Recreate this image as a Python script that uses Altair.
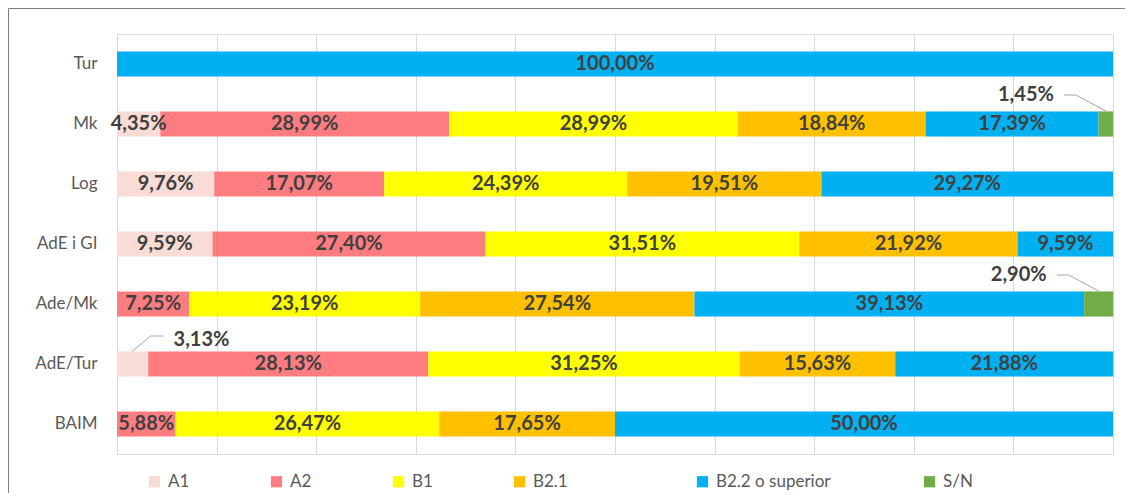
import altair as alt
import pandas as pd

categories = ["Tur", "Mk", "Log", "AdE i GI", "Ade/Mk", "AdE/Tur", "BAIM"]
levels = ["A1", "A2", "B1", "B2.1", "B2.2 o superior", "S/N"]
colors = ["#F8DCD5", "#FF7C80", "#FFFF00", "#FFC000", "#00B0F0", "#70AD47"]

a1 = [0, 4.35, 9.76, 9.59, 0, 3.13, 0]
a2 = [0, 28.99, 17.07, 27.40, 7.25, 28.13, 5.88]
b1 = [0, 28.99, 24.39, 31.51, 23.19, 31.25, 26.47]
b21 = [0, 18.84, 19.51, 21.92, 27.54, 15.63, 17.65]
b22 = [100.00, 17.39, 29.27, 9.59, 39.13, 21.88, 50.00]
sn = [0, 1.45, 0, 0, 2.90, 0, 0]

series = [a1, a2, b1, b21, b22, sn]
rows = []
for ci, cat in enumerate(categories):
    cum = 0.0
    for li, lev in enumerate(levels):
        v = series[li][ci]
        if v > 0:
            rows.append({
                "cat": cat, "level": lev, "value": v,
                "start": cum, "end": cum + v, "mid": cum + v / 2,
                "label": f"{v:.2f}".replace(".", ",") + "%",
                "callout": "none" if v >= 4 else ("left" if cum > 50 else "right"),
            })
            cum += v
df = pd.DataFrame(rows)

FONT = "Lato"
TXT = "#404040"
LEAD = "#A6A6A6"

y = alt.Y("cat:N", sort=categories, title=None,
          scale=alt.Scale(paddingInner=0.58, paddingOuter=0.29),
          axis=alt.Axis(domain=False, ticks=False, labelFontSize=17, labelColor="#595959",
                        labelFont=FONT, labelPadding=20, grid=False))
y2 = alt.Y2("cat:N")

base = alt.Chart(df)

BL = "\u2800"
legend_expr = (
    f"datum.label == 'B2.1' ? 'B2.1' + '{BL * 4}' : "
    f"datum.label == 'B2.2 o superior' ? 'B2.2 o superior' + '{BL * 1}' : datum.label"
)

bars = base.mark_bar().encode(
    x=alt.X("start:Q", scale=alt.Scale(domain=[0, 100], nice=False), title=None,
            axis=alt.Axis(values=list(range(0, 101, 10)), labels=False, ticks=False,
                          domain=False, grid=True, gridColor="#D9D9D9", gridWidth=1)),
    x2="end:Q",
    y=y,
    color=alt.Color("level:N", scale=alt.Scale(domain=levels, range=colors),
                    legend=alt.Legend(title=None, orient="none", direction="horizontal",
                                      legendX=29, legendY=439, padding=0,
                                      symbolType="square", symbolSize=125,
                                      symbolStrokeWidth=0, labelFontSize=17,
                                      labelFont=FONT, labelColor="#595959",
                                      labelOffset=5, columnPadding=78,
                                      labelExpr=legend_expr)),
)

inside = base.transform_filter("datum.callout == 'none'").mark_text(
    font=FONT, fontSize=20, fontWeight="bold", color=TXT, baseline="middle", align="center"
).encode(x="mid:Q", y=y, text="label:N")

left = base.transform_filter("datum.callout == 'left'")
right = base.transform_filter("datum.callout == 'right'")

left_diag = left.mark_rule(color=LEAD, strokeWidth=1, yOffset=-13, y2Offset=-29, x2Offset=-30).encode(
    x="mid:Q", x2="mid:Q", y=y, y2=y2)
left_hor = left.mark_rule(color=LEAD, strokeWidth=1, yOffset=-29, y2Offset=-29, xOffset=-30, x2Offset=-42).encode(
    x="mid:Q", x2="mid:Q", y=y, y2=y2)
left_txt = left.mark_text(font=FONT, fontSize=20, fontWeight="bold", color=TXT, baseline="middle",
                          align="right", xOffset=-52, yOffset=-29).encode(x="mid:Q", y=y, text="label:N")

right_diag = right.mark_rule(color=LEAD, strokeWidth=1, yOffset=-13, y2Offset=-28, x2Offset=18).encode(
    x="mid:Q", x2="mid:Q", y=y, y2=y2)
right_hor = right.mark_rule(color=LEAD, strokeWidth=1, yOffset=-28, y2Offset=-28, xOffset=18, x2Offset=31).encode(
    x="mid:Q", x2="mid:Q", y=y, y2=y2)
right_txt = right.mark_text(font=FONT, fontSize=20, fontWeight="bold", color=TXT, baseline="middle",
                            align="left", xOffset=41, yOffset=-24).encode(x="mid:Q", y=y, text="label:N")

frame_df = pd.DataFrame({"k": [0]})
frame_v = alt.Chart(frame_df).mark_rule(color="#7F7F7F", strokeWidth=1).encode(
    x=alt.value(-108.5), y=alt.value(-25.5), y2=alt.value(470))
frame_h = alt.Chart(frame_df).mark_rule(color="#7F7F7F", strokeWidth=1).encode(
    x=alt.value(-108.5), x2=alt.value(1020), y=alt.value(-25.5))

chart = alt.layer(
    bars, inside, left_diag, left_hor, left_txt, right_diag, right_hor, right_txt, frame_v, frame_h
).properties(
    width=996, height=420,
    padding={"left": 109, "top": 26, "right": 12, "bottom": 39},
    autosize=alt.AutoSizeParams(type="none"),
).configure_view(stroke=None).configure(background="white")

chart.save("out.html", embed_options={"renderer": "svg", "actions": False})
